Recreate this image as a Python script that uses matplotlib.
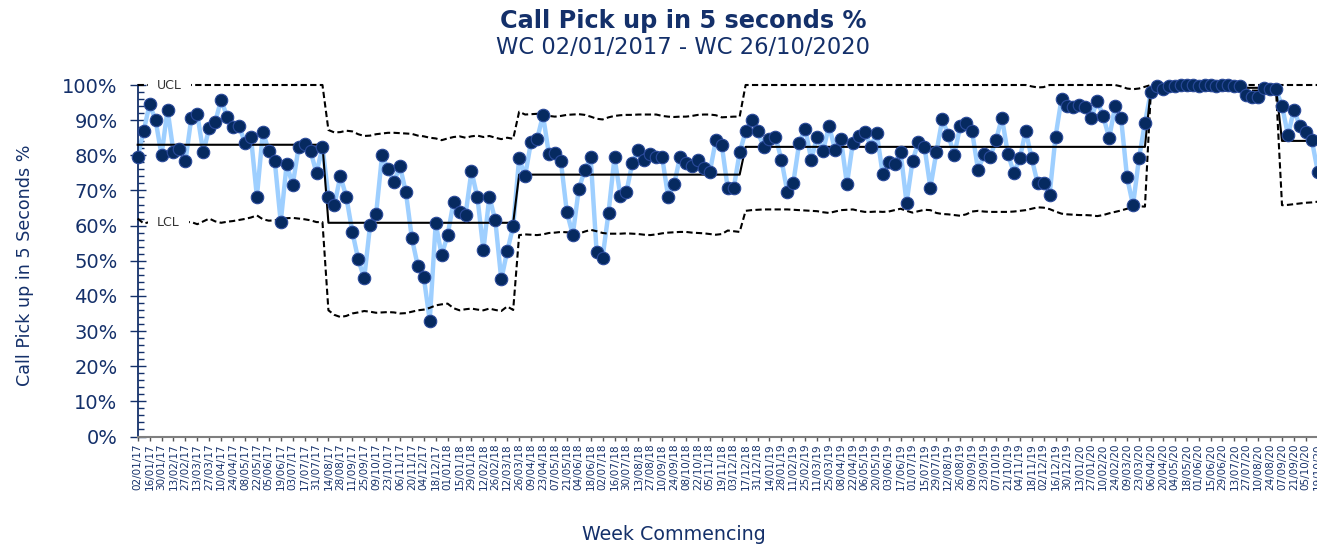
import numpy as np
import pandas as pd
import matplotlib
matplotlib.use("Agg")
import matplotlib.pyplot as plt
from matplotlib.ticker import FixedLocator, MultipleLocator, FuncFormatter

plt.rcParams['font.family'] = ['DejaVu Sans']

# ---- data -----------------------------------------------------------------
first_week = "2017-01-02"
n_weeks = 200

# weekly % of calls picked up within 5 seconds, one list per process phase
phase1 = [79.5, 87.0, 94.5, 90.0, 80.0, 93.0, 81.0, 81.8, 78.3, 90.6,
          91.7, 80.8, 87.8, 89.5, 95.8, 91.0, 88.1, 88.3, 83.6, 85.3,
          68.2, 86.6, 81.3, 78.3, 61.0, 77.6, 71.5, 82.3, 83.2, 81.2,
          74.9, 82.5]
phase2 = [68.2, 65.8, 74.1, 68.2, 58.3, 50.4, 45.0, 60.2, 63.3, 80.0,
          76.0, 72.5, 76.9, 69.5, 56.4, 48.5, 45.3, 33.0, 60.6, 51.6,
          57.3, 66.8, 63.9, 63.0, 75.5, 68.0, 53.0, 68.2, 61.5, 44.7,
          52.7, 59.8]
phase3 = [79.1, 74.1, 83.9, 84.5, 91.4, 80.3, 80.6, 78.3, 63.9, 57.4,
          70.3, 75.8, 79.4, 52.5, 50.9, 63.7, 79.4, 68.4, 69.6, 77.9,
          81.5, 78.6, 80.3, 79.4, 79.4, 68.2, 71.7, 79.6, 77.7, 77.0,
          78.8, 76.4, 75.3, 84.3, 82.9, 70.6, 70.6, 80.8]
phase4 = [86.8, 90.0, 86.8, 82.5, 84.5, 85.3, 78.8, 69.6, 72.2, 83.6,
          87.6, 78.8, 85.3, 81.3, 88.4, 81.5, 84.5, 71.8, 83.6, 85.5,
          86.7, 82.5, 86.3, 74.6, 78.0, 77.5, 81.0, 66.5, 78.3, 83.9,
          82.5, 70.8, 80.8, 90.2, 85.8, 80.1, 88.2, 89.3, 86.8, 75.8,
          80.3, 79.4, 84.3, 90.7, 80.5, 75.0, 79.1, 87.0, 79.1, 72.0,
          72.2, 68.7, 85.3, 96.1, 94.0, 93.8, 94.3, 93.8, 90.7, 95.5,
          91.1, 84.9, 94.0, 90.5, 73.7, 65.8, 79.1, 89.3]
phase5 = [98.1, 99.7, 98.8, 99.6, 99.8, 99.9, 100.0, 99.9, 99.8, 100.0,
          99.9, 99.8, 100.0, 99.9, 99.8, 99.8, 97.2, 96.5, 96.7, 99.2,
          98.8, 98.8]
phase6 = [94.0, 85.8, 92.9, 88.3, 86.7, 84.3, 75.3, 69.7]

# centre line of each phase
centre = [83.0, 60.8, 74.5, 82.4, 99.2, 84.1]

# upper / lower control limits, week by week within each phase
ucl1 = [100.0] * 32
lcl1 = [62.0, 60.6, 61.0, 61.1, 61.0, 60.9, 61.0, 61.1, 61.0, 61.0,
        60.4, 61.2, 62.0, 61.2, 60.8, 61.1, 61.3, 61.6, 61.9, 62.3,
        62.9, 61.8, 61.4, 61.5, 61.8, 62.1, 62.2, 62.0, 61.8, 61.5,
        61.0, 61.0]
ucl2 = [87.2, 86.5, 86.6, 87.0, 86.8, 86.0, 85.5, 85.6, 86.0, 86.2,
        86.4, 86.4, 86.3, 86.2, 86.1, 85.6, 85.4, 85.0, 84.8, 84.3,
        84.8, 85.2, 85.4, 85.0, 85.4, 85.6, 85.2, 85.5, 85.0, 84.6,
        85.0, 84.7]
lcl2 = [35.9, 34.6, 34.0, 34.3, 35.0, 35.3, 35.7, 35.5, 35.2, 35.3,
        35.4, 35.3, 35.0, 35.1, 35.5, 35.9, 36.1, 36.6, 37.3, 37.6,
        37.8, 36.5, 35.9, 36.2, 36.4, 36.1, 35.9, 36.4, 36.0, 35.7,
        37.0, 36.0]
ucl3 = [92.4, 91.6, 91.7, 91.8, 91.6, 91.2, 91.0, 91.2, 91.5, 91.6,
        91.7, 91.5, 91.0, 90.4, 90.2, 90.8, 91.2, 91.4, 91.5, 91.5,
        91.6, 91.6, 91.6, 91.6, 91.2, 91.0, 90.9, 91.0, 91.0, 91.2,
        91.5, 91.6, 91.6, 91.4, 90.8, 90.9, 91.0, 91.0]
lcl3 = [57.3, 57.5, 57.4, 57.3, 57.5, 57.9, 58.0, 58.2, 58.1, 57.8,
        57.7, 58.3, 58.8, 58.4, 57.9, 57.7, 57.7, 57.7, 57.8, 57.7,
        57.6, 57.4, 57.3, 57.5, 57.8, 58.0, 58.1, 58.2, 58.2, 58.0,
        57.9, 57.8, 57.6, 57.4, 57.6, 58.6, 58.4, 58.2]
ucl4 = [100.0] * 48 + [99.6, 99.3, 99.4] + [100.0] * 12 + [99.6, 99.0, 98.8, 99.0, 99.5]
lcl4 = [64.2, 64.4, 64.5, 64.6, 64.6, 64.6, 64.6, 64.6, 64.5, 64.4,
        64.3, 64.2, 64.1, 63.8, 63.6, 64.0, 64.4, 64.5, 64.6, 64.2,
        63.9, 63.9, 64.0, 63.9, 64.0, 64.4, 64.8, 64.2, 63.7, 64.1,
        64.5, 64.4, 63.6, 63.3, 63.2, 63.0, 62.8, 63.2, 64.0, 64.2,
        64.0, 63.9, 63.9, 63.9, 63.9, 64.0, 64.2, 64.4, 64.8, 65.2,
        65.1, 64.7, 64.0, 63.4, 63.2, 63.1, 63.0, 63.0, 62.9, 62.7,
        63.0, 63.5, 63.9, 64.3, 64.8, 65.3, 65.5, 65.4]
ucl5 = [100.0] * 22
lcl5 = [98.4] * 22
ucl6 = [100.0] * 8
lcl6 = [65.8, 65.9, 66.1, 66.3, 66.5, 66.6, 66.8, 67.0]

# ---- assemble -------------------------------------------------------------
phases = [phase1, phase2, phase3, phase4, phase5, phase6]
values = np.concatenate(phases)
cl = np.repeat(centre, [len(p) for p in phases])
ucl = np.concatenate([ucl1, ucl2, ucl3, ucl4, ucl5, ucl6])
lcl = np.concatenate([lcl1, lcl2, lcl3, lcl4, lcl5, lcl6])
weeks = pd.date_range(first_week, periods=n_weeks, freq="7D")
x = np.arange(n_weeks)

# ---- styling --------------------------------------------------------------
NAVY = '#14306a'
W, H = 1317, 545
fig = plt.figure(figsize=(W / 100, H / 100), dpi=100)
x0_px, week_px = 137.7, 5.96
ax = fig.add_axes([x0_px / W, (H - 436.5) / H, (n_weeks - 1) * week_px / W, 351.5 / H])

ax.plot(x, values, color='#9ecfff', lw=3.2, zorder=2, clip_on=False)
ax.plot(x, ucl, color='black', lw=1.5, ls=(0, (3, 1.6)), zorder=3, clip_on=False)
ax.plot(x, lcl, color='black', lw=1.5, ls=(0, (3, 1.6)), zorder=3, clip_on=False)
ax.plot(x, cl, color='black', lw=1.5, zorder=3, clip_on=False)
ax.plot(x, values, ls='none', marker='o', ms=9, mfc='#062a60', mec='#2a4a9a',
        mew=0.8, zorder=5, clip_on=False)

lbl_kw = dict(fontsize=9, color='#333333', ha='left', va='center', zorder=4,
              bbox=dict(boxstyle='square,pad=0.7', fc='white', ec='none'))
ax.text((157 - x0_px) / week_px, ucl[0], 'UCL', **lbl_kw)
ax.text((157 - x0_px) / week_px, 61.0, 'LCL', **lbl_kw)

ax.set_xlim(0, n_weeks - 1)
ax.set_ylim(0, 100)

ax.yaxis.set_major_locator(MultipleLocator(10))
ax.yaxis.set_minor_locator(MultipleLocator(2))
ax.yaxis.set_major_formatter(FuncFormatter(lambda v, _: f'{v:.0f}%'))
ax.tick_params(axis='y', which='major', direction='inout', length=11, width=1,
               color=NAVY, labelcolor=NAVY, labelsize=14, pad=9)
ax.tick_params(axis='y', which='minor', direction='in', length=4.5, width=1,
               color=NAVY)

tick_pos = x[::2]
ax.xaxis.set_major_locator(FixedLocator(tick_pos))
ax.set_xticklabels([weeks[i].strftime('%d/%m/%y') for i in tick_pos],
                   rotation=90, fontsize=7.5, color=NAVY)
ax.tick_params(axis='x', direction='out', length=3, width=1, color='#555555', pad=2)

for s in ('top', 'right'):
    ax.spines[s].set_visible(False)
ax.spines['left'].set_color(NAVY)
ax.spines['left'].set_linewidth(1.3)
ax.spines['bottom'].set_color('#7f7f7f')
ax.spines['bottom'].set_linewidth(1.5)

fig.text(683 / W, 1 - 28.3 / H, 'Call Pick up in 5 seconds %', ha='center',
         va='baseline', fontsize=17.3, fontweight='bold', color=NAVY)
fig.text(683 / W, 1 - 54 / H, 'WC 02/01/2017 - WC 26/10/2020', ha='center',
         va='baseline', fontsize=16.3, color=NAVY)
fig.text(25 / W, 1 - 265 / H, 'Call Pick up in 5 Seconds %', rotation=90,
         ha='center', va='center', fontsize=12.6, color=NAVY)
fig.text(674 / W, 1 - 539.5 / H, 'Week Commencing', ha='center', va='baseline',
         fontsize=13.7, color=NAVY)

fig.savefig('out.png', dpi=100, facecolor='white')
